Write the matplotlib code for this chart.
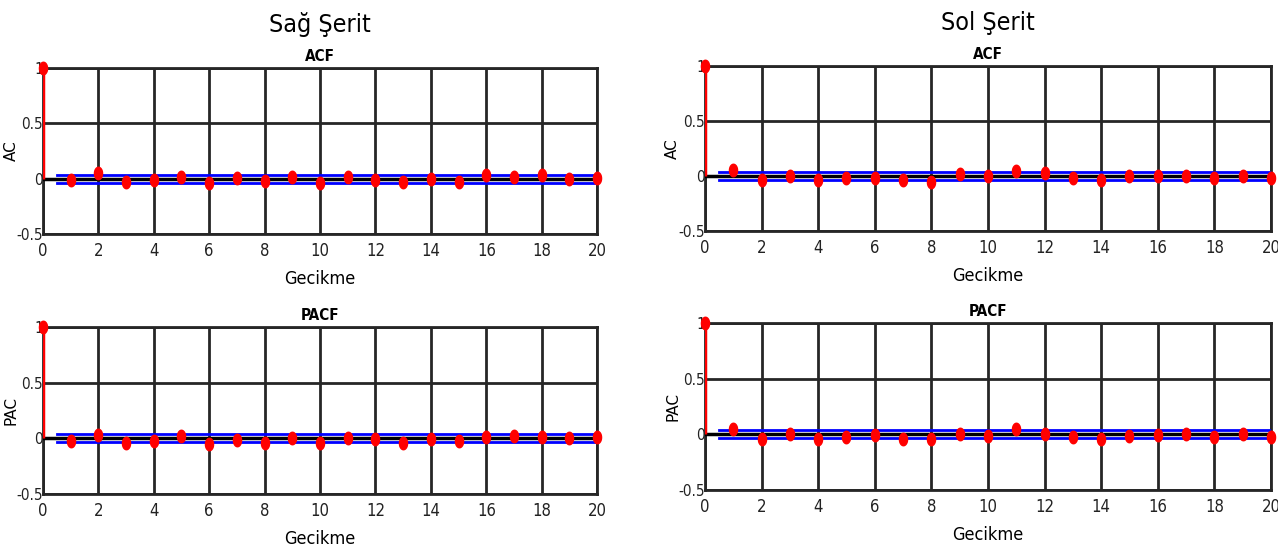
import matplotlib
matplotlib.use("Agg")
import matplotlib.pyplot as plt
from matplotlib import font_manager
from matplotlib.path import Path
import numpy as np

# the original uses a narrow font; take a condensed one if any is installed
names = {f.name for f in font_manager.fontManager.ttflist}
cond = [f for f in font_manager.fontManager.ttflist
        if ('Condensed' in f.fname or 'Narrow' in f.fname) and f.style == 'normal']
if "Liberation Sans Narrow" in names:
    plt.rcParams['font.family'] = ["Liberation Sans Narrow", 'DejaVu Sans']
elif cond:
    plt.rcParams['font.family'] = [cond[0].name, 'DejaVu Sans']
    plt.rcParams['font.stretch'] = 'condensed'
else:
    plt.rcParams['font.family'] = ['DejaVu Sans']

lags = np.arange(0, 21)
sag_acf = [1, -0.01, 0.05, -0.03, -0.015, 0.02, -0.04, 0.005, -0.025, 0.02, -0.04,
           0.02, -0.01, -0.03, 0.0, -0.03, 0.035, 0.02, 0.03, -0.005, 0.01]
sag_pacf = [1, -0.025, 0.03, -0.045, -0.025, 0.02, -0.055, -0.015, -0.045, 0.005, -0.045,
            0.005, -0.01, -0.045, -0.01, -0.025, 0.015, 0.02, 0.015, 0.005, 0.015]
sol_acf = [1, 0.055, -0.035, 0.0, -0.035, -0.015, -0.015, -0.035, -0.05, 0.02, 0.0,
           0.05, 0.025, -0.02, -0.035, 0.0, 0.0, 0.0, -0.015, 0.0, -0.015]
sol_pacf = [1, 0.05, -0.04, 0.005, -0.04, -0.025, -0.01, -0.04, -0.04, 0.005, -0.015,
            0.05, 0.0, -0.025, -0.04, -0.015, -0.01, 0.0, -0.025, 0.005, -0.025]
bound = 0.037

# tall ellipse marker like the original
t = np.linspace(0, 2*np.pi, 40)
ell = Path(np.column_stack([0.65*np.cos(t), np.sin(t)]), closed=True)

fig = plt.figure(figsize=(12.78, 5.52), dpi=100)

panels = [
    ([0.0336, 0.576, 0.4336, 0.3007], sag_acf, "ACF", "AC", "Sağ Şerit"),
    ([0.0336, 0.105, 0.4336, 0.3026], sag_pacf, "PACF", "PAC", None),
    ([0.5516, 0.5815, 0.4429, 0.2989], sol_acf, "ACF", "AC", "Sol Şerit"),
    ([0.5516, 0.1123, 0.4429, 0.3026], sol_pacf, "PACF", "PAC", None),
]

for rect, vals, title, ylab, head in panels:
    ax = fig.add_axes(rect)
    ax.set_xlim(0, 20)
    ax.set_ylim(-0.5, 1)
    ax.set_xticks(np.arange(0, 21, 2))
    ax.set_yticks([-0.5, 0, 0.5, 1])
    ax.set_yticklabels(['-0.5', '0', '0.5', '1'])
    ax.grid(True, color='#262626', linewidth=2)
    ax.set_axisbelow(True)
    for s in ax.spines.values():
        s.set_color('#262626')
        s.set_linewidth(2)
    ax.tick_params(length=0, colors='#222222')
    ax.tick_params(axis='x', pad=6, labelsize=12)
    ax.tick_params(axis='y', pad=0, labelsize=11)
    ax.plot([0, 20], [0, 0], color='black', linewidth=2.5, zorder=3)
    ax.plot([0.5, 20], [bound, bound], color='blue', linewidth=2, zorder=4)
    ax.plot([0.5, 20], [-bound, -bound], color='blue', linewidth=2, zorder=4)
    ax.vlines(lags, 0, vals, color='red', linewidth=2.5, zorder=5)
    ax.plot(lags, vals, linestyle='none', marker=ell, markersize=9,
            color='red', zorder=6, clip_on=False)
    ax.set_title(title, fontsize=11, fontweight='bold', pad=5)
    ax.set_ylabel(ylab, fontsize=11, fontstretch='normal', family='DejaVu Sans')
    ax.yaxis.set_label_coords(-0.044, 0.5)
    ax.set_xlabel("Gecikme", fontsize=13, labelpad=7)
    if head:
        ax.text(0.5, 1.19, head, transform=ax.transAxes, ha='center',
                va='bottom', fontsize=18)

fig.savefig("out.png", dpi=100)
